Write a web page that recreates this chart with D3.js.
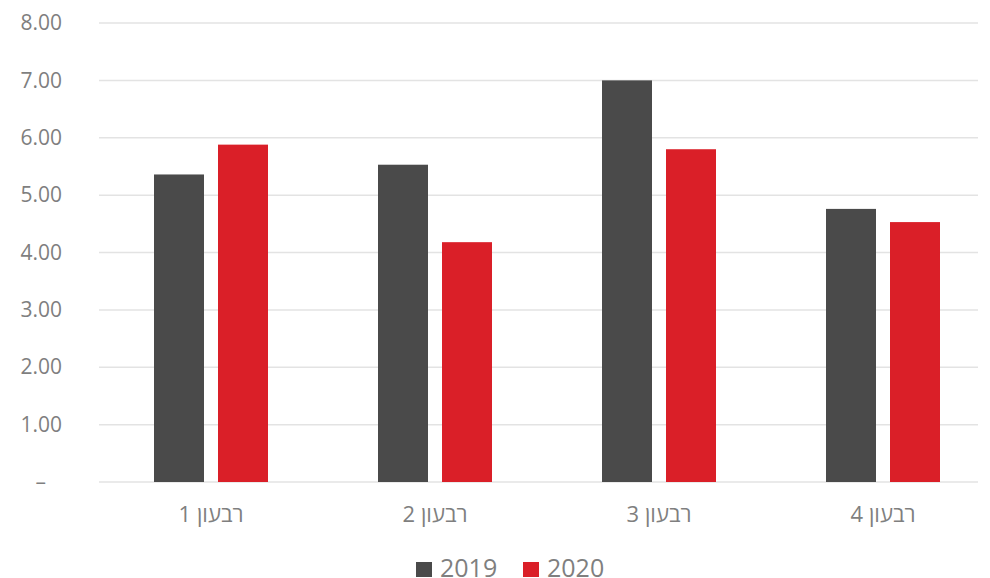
<!DOCTYPE html>
<html>
<head>
<meta charset="utf-8">
<script src="https://cdn.jsdelivr.net/npm/d3@7"></script>
<style>
  html, body { margin: 0; padding: 0; background: #fff; }
  svg { display: block; }
</style>
</head>
<body>
<script>
const categories = ["רבעון 1", "רבעון 2", "רבעון 3", "רבעון 4"];
const seriesNames = ["2019", "2020"];
const values2019 = [5.36, 5.53, 7.00, 4.76];
const values2020 = [5.88, 4.18, 5.80, 4.53];
const yTicks = [0, 1, 2, 3, 4, 5, 6, 7, 8];
const colors = ["#4a4a4a", "#da1f28"];

const W = 990, H = 578;
const mLeft = 99, mRight = 995, mTop = 23, mBottom = 482;

const svg = d3.select("body").append("svg").attr("width", W).attr("height", H);

const y = d3.scaleLinear().domain([0, 8]).range([mBottom, mTop]);
const x0 = d3.scaleBand().domain(categories).range([mLeft, mRight]).padding(0);
const x1 = d3.scaleBand().domain(seriesNames)
  .range([55, 169]).paddingInner(0.21875).paddingOuter(0);

// gridlines
svg.append("g").selectAll("line").data(yTicks).join("line")
  .attr("x1", mLeft).attr("x2", 978)
  .attr("y1", d => y(d)).attr("y2", d => y(d))
  .attr("stroke", "#e3e3e3").attr("stroke-width", 1.5);

// y axis labels
const yAxis = d3.axisLeft(y).tickValues(yTicks)
  .tickFormat(d => d === 0 ? "–" : d3.format(".2f")(d)).tickSize(0).tickPadding(0);
const ya = svg.append("g").attr("transform", "translate(62,0)").call(yAxis);
ya.select(".domain").remove();
ya.selectAll("text")
  .attr("fill", "#7f7f7f")
  .style("font-family", "'Open Sans', sans-serif")
  .style("font-size", "21px");
ya.selectAll(".tick").filter(d => d === 0).select("text").attr("x", -16);

// bars
const data = categories.map((c, i) => ({ cat: c, vals: [values2019[i], values2020[i]] }));
const groups = svg.append("g").selectAll("g").data(data).join("g")
  .attr("transform", d => `translate(${x0(d.cat)},0)`);
groups.selectAll("rect").data(d => d.vals.map((v, j) => ({ s: seriesNames[j], v, j })))
  .join("rect")
  .attr("x", d => x1(d.s))
  .attr("width", x1.bandwidth())
  .attr("y", d => y(d.v))
  .attr("height", d => y(0) - y(d.v))
  .attr("fill", d => colors[d.j]);

// x axis labels
const xAxis = d3.axisBottom(x0).tickSize(0).tickPadding(0);
const xa = svg.append("g").attr("transform", `translate(0,${mBottom + 32})`).call(xAxis);
xa.select(".domain").remove();
xa.selectAll("text")
  .attr("fill", "#7f7f7f")
  .attr("dy", "0.35em")
  .attr("direction", "rtl")
  .style("font-family", "'Open Sans', sans-serif")
  .style("font-size", "22px");

// legend
const legend = svg.append("g");
const legendItems = [{ name: "2019", x: 416 }, { name: "2020", x: 523 }];
legendItems.forEach((it, i) => {
  legend.append("rect").attr("x", it.x).attr("y", 562).attr("width", 16).attr("height", 15)
    .attr("fill", colors[i]);
  legend.append("text").attr("x", it.x + 24).attr("y", 577)
    .attr("fill", "#7f7f7f")
    .style("font-family", "'Open Sans', sans-serif")
    .style("font-size", "25px")
    .text(it.name);
});
</script>
</body>
</html>
